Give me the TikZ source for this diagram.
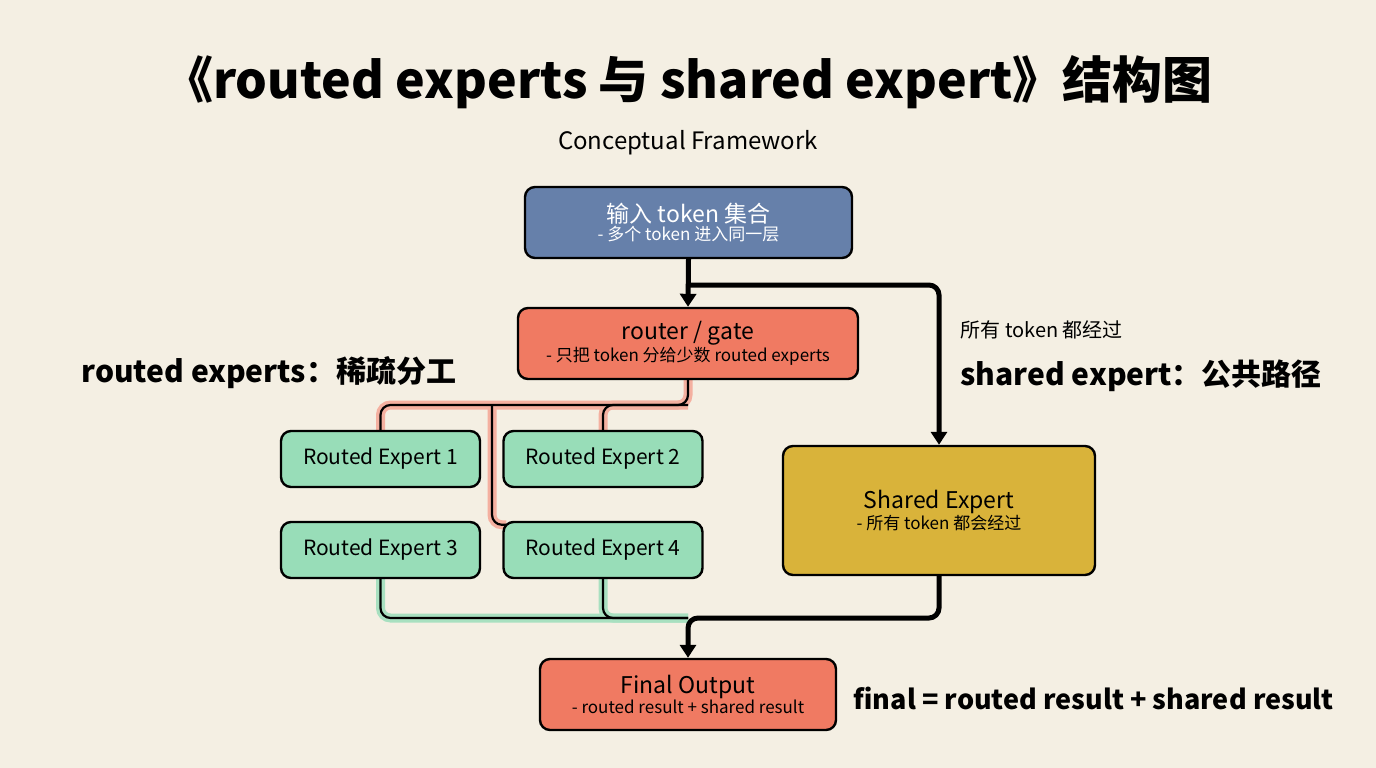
\documentclass[tikz,border=0pt]{standalone}
\usepackage{fontspec}
\setmainfont{Noto Sans CJK SC}
\usetikzlibrary{arrows.meta,backgrounds}
\definecolor{bg}{HTML}{F4EFE3}
\definecolor{blu}{HTML}{6680AA}
\definecolor{sal}{HTML}{F07A62}
\definecolor{grn}{HTML}{98DDB8}
\definecolor{mus}{HTML}{D9B33A}
\definecolor{salh}{HTML}{F4B0A0}
\definecolor{grnh}{HTML}{A8E0C0}
\begin{document}
\begin{tikzpicture}[x=1pt,y=-1pt,
 box/.style={draw=black,line width=2.4pt,rounded corners=10pt,inner sep=0pt},
 thk/.style={line width=5pt,rounded corners=10pt},
 halo/.style={line width=9pt,rounded corners=10pt},
 thn/.style={line width=2.2pt,rounded corners=10pt},
 tip/.style={-{Triangle[length=13pt,width=16pt]}}]
\useasboundingbox (0,0) rectangle (1376,768);
\node (title) at (688,82) {\fontsize{50}{56}\selectfont\bfseries 《routed experts 与 shared expert》结构图};
\node (sub) at (688,143) {\fontsize{24}{28}\selectfont Conceptual Framework};
% boxes
\node[box,fill=blu,minimum width=327pt,minimum height=71pt,text=white,align=center] (in) at (688.5,222.5) {{\fontsize{23}{27}\selectfont 输入 token 集合}\\[1pt]{\fontsize{17}{20}\selectfont - 多个 token 进入同一层}};
\node[box,fill=sal,minimum width=340pt,minimum height=71pt,align=center] (rt) at (688,343.5) {{\fontsize{23}{27}\selectfont router / gate}\\[1pt]{\fontsize{17}{20}\selectfont - 只把 token 分给少数 routed experts}};
\foreach \n/\x/\y/\t in {r1/380.5/459/1,r2/603/459/2,r3/380.5/550/3,r4/603/550/4}
 \node[box,fill=grn,minimum width=199pt,minimum height=56pt] (\n) at (\x,\y) {\fontsize{21}{25}\selectfont Routed Expert \t};
\node[box,fill=mus,minimum width=312pt,minimum height=129pt,align=center] (sh) at (939,510.5) {{\fontsize{23}{27}\selectfont Shared Expert}\\[1pt]{\fontsize{17}{20}\selectfont - 所有 token 都会经过}};
\node[box,fill=sal,minimum width=296pt,minimum height=71pt,align=center] (fo) at (688,694.5) {{\fontsize{23}{27}\selectfont Final Output}\\[1pt]{\fontsize{17}{20}\selectfont - routed result + shared result}};
% labels
\node[anchor=west] (l1) at (78,373) {\fontsize{30}{34}\selectfont\bfseries routed experts：稀疏分工};
\node[anchor=west] (l2) at (957,330) {\fontsize{20}{24}\selectfont 所有 token 都经过};
\node[anchor=west] (l3) at (957,376) {\fontsize{30}{34}\selectfont\bfseries shared expert：公共路径};
\node[anchor=west] (l4) at (850,698) {\fontsize{27}{32}\selectfont\bfseries final = routed result + shared result};
\begin{pgfonlayer}{background}
\fill[bg] (0,0) rectangle (1376,768);
\coordinate (ra) at (688,405);
\coordinate (rb) at (492,405);
\draw[halo,salh] (rt.south) -- (ra) -| (r1.north);
\draw[halo,salh] (ra) -| (r2.north);
\draw[halo,salh] (rb) |- ([yshift=-4pt,xshift=4pt]r4.north west);
\draw[thn] (rt.south) -- (ra) -| (r1.north);
\draw[thn] (ra) -| (r2.north);
\draw[thn] (rb) |- ([yshift=-4pt,xshift=4pt]r4.north west);
\coordinate (ja) at (688,618);
\draw[halo,grnh] (r3.south) |- (ja);
\draw[halo,grnh] (r4.south) |- (ja);
\draw[thn] (r3.south) |- (ja);
\draw[thn] (r4.south) |- (ja);
\coordinate (jb) at (688,285);
\draw[thk,tip] (in.south) -- (rt.north);
\draw[thk,tip] (jb) -| (sh.north);
\draw[thk,tip] (sh.south) |- (ja) -- (fo.north);
\end{pgfonlayer}
\end{tikzpicture}
\end{document}
